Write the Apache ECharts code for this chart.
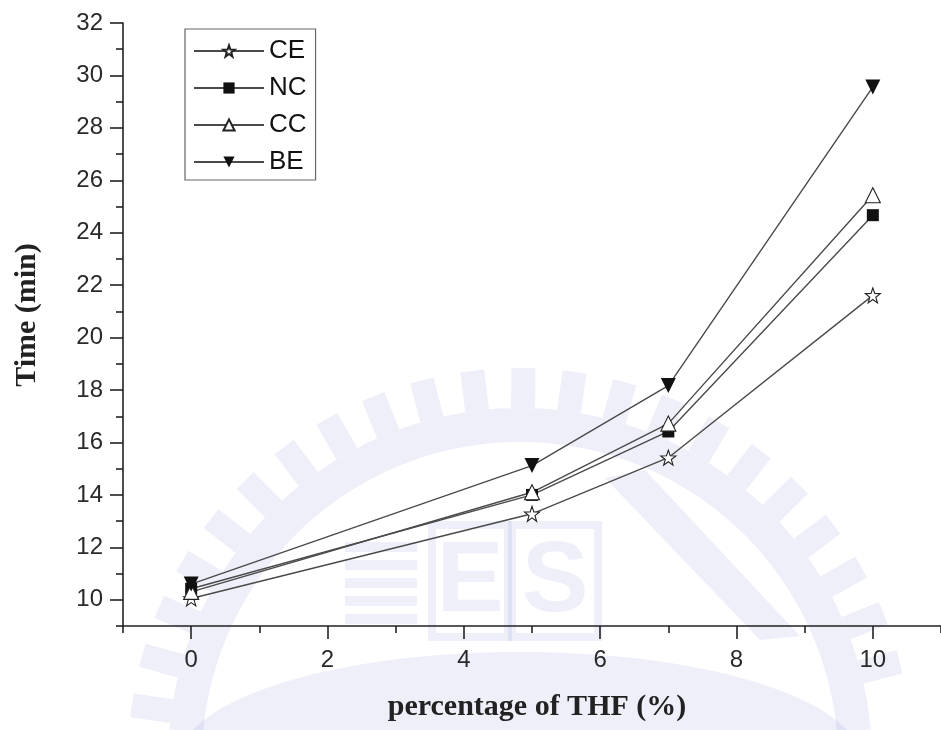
<!DOCTYPE html>
<html>
<head>
<meta charset="utf-8">
<script src="https://cdn.jsdelivr.net/npm/echarts@6/dist/echarts.min.js"></script>
<style>
  html, body { margin: 0; padding: 0; background: #fff; }
  #chart { width: 941px; height: 730px; }
</style>
</head>
<body>
<div id="chart"></div>
<script>
// THF percentage on the x axis
const thf = [0, 5, 7, 10];

// elution time (min) per sample
const seriesNames = ['CE', 'NC', 'CC', 'BE'];
const ceTime = [10.05, 13.28, 15.42, 21.61];
const ncTime = [10.42, 14.0, 16.42, 24.67];
const ccTime = [10.3, 14.1, 16.72, 25.43];
const beTime = [10.6, 15.12, 18.17, 29.56];

// tick labels (major) and unlabeled minor ticks
const xTickLabels = [0, 2, 4, 6, 8, 10];
const xMinorTicks = [-1, 1, 3, 5, 7, 9, 11];
const yTickLabels = [10, 12, 14, 16, 18, 20, 22, 24, 26, 28, 30, 32];
const yMinorTicks = [9, 11, 13, 15, 17, 19, 21, 23, 25, 27, 29, 31];

const STAR = 'path://M10,0 L12.35,6.76 L19.51,6.91 L13.8,11.24 L15.88,18.09 L10,14 L4.12,18.09 L6.2,11.24 L0.49,6.91 L7.65,6.76 Z';
const DOWN_TRI = 'path://M0,0 L10,0 L5,9 Z';

const zip = (xs, ys) => xs.map((x, i) => [x, ys[i]]);

function makeSeries(name, values, symbol, size, filled) {
  return {
    name: name,
    type: 'line',
    data: zip(thf, values),
    symbol: symbol,
    symbolSize: size,
    showAllSymbol: true,
    lineStyle: { color: '#4a4a4a', width: 1.4 },
    itemStyle: {
      color: filled ? '#111' : '#fff',
      borderColor: '#222',
      borderWidth: filled ? 0 : 1.1
    },
    emphasis: { disabled: true },
    z: 3
  };
}

// faint seal-like emblem printed across the page
const WM = 'rgba(150,158,220,0.16)';
function emblem() {
  const cx = 520, cy = 760;
  const els = [];
  els.push({
    type: 'sector', silent: true,
    shape: { cx: cx, cy: cy, r0: 318, r: 352, startAngle: Math.PI * 185 / 180, endAngle: Math.PI * 355 / 180 },
    style: { fill: WM }
  });
  for (let a = 188; a <= 352; a += 7.5) {
    const t = a * Math.PI / 180;
    const ux = Math.cos(t), uy = Math.sin(t);
    const vx = -uy, vy = ux;
    const r1 = 352, r2 = 392, hw = 12;
    els.push({
      type: 'polygon', silent: true,
      shape: { points: [
        [cx + ux * r1 - vx * hw, cy + uy * r1 - vy * hw],
        [cx + ux * r2 - vx * hw, cy + uy * r2 - vy * hw],
        [cx + ux * r2 + vx * hw, cy + uy * r2 + vy * hw],
        [cx + ux * r1 + vx * hw, cy + uy * r1 + vy * hw]
      ] },
      style: { fill: WM }
    });
  }
  for (let i = 0; i < 5; i++) {
    els.push({ type: 'rect', silent: true, shape: { x: 345, y: 542 + i * 18, width: 72, height: 10 }, style: { fill: WM } });
  }
  els.push({ type: 'rect', silent: true, shape: { x: 432, y: 525, width: 76, height: 112 }, style: { fill: 'none', stroke: WM, lineWidth: 8 } });
  els.push({ type: 'rect', silent: true, shape: { x: 512, y: 525, width: 86, height: 112 }, style: { fill: 'none', stroke: WM, lineWidth: 8 } });
  els.push({ type: 'text', silent: true, x: 470, y: 583, style: { text: 'E', font: 'bold 100px "Liberation Sans", sans-serif', fill: WM, align: 'center', verticalAlign: 'middle' } });
  els.push({ type: 'text', silent: true, x: 555, y: 583, style: { text: 'S', font: 'bold 100px "Liberation Sans", sans-serif', fill: WM, align: 'center', verticalAlign: 'middle' } });
  els.push({ type: 'polygon', silent: true, shape: { points: [[605, 478], [645, 470], [800, 636], [760, 640]] }, style: { fill: WM } });
  els.push({ type: 'ellipse', silent: true, shape: { cx: cx, cy: cy, rx: 340, ry: 108 }, style: { fill: WM } });
  return els;
}

const tickFont = { fontFamily: 'Liberation Sans, Arial, sans-serif', fontSize: 24, color: '#2a2a2a' };
const axisLineStyle = { color: '#222', width: 1.6 };
const tickLine = { color: '#222', width: 1.6 };

const chart = echarts.init(document.getElementById('chart'), null, { renderer: 'canvas' });
chart.setOption({
  animation: false,
  backgroundColor: '#fff',
  grid: { left: 123, top: 23, right: -8, bottom: 104, containLabel: false },
  xAxis: [{
    type: 'value', min: -1, max: 11,
    axisLine: { onZero: false, lineStyle: axisLineStyle },
    axisTick: { customValues: xTickLabels, length: 13, lineStyle: tickLine },
    axisLabel: { customValues: xTickLabels, margin: 22, ...tickFont },
    splitLine: { show: false }
  }, {
    type: 'value', min: -1, max: 11, position: 'bottom', offset: 0,
    axisLine: { show: false, onZero: false },
    axisTick: { customValues: xMinorTicks, length: 7, lineStyle: tickLine },
    axisLabel: { show: false },
    splitLine: { show: false }
  }],
  yAxis: [{
    type: 'value', min: 9, max: 32,
    axisLine: { show: true, onZero: false, lineStyle: axisLineStyle },
    axisTick: { show: true, customValues: yTickLabels, length: 13, lineStyle: tickLine },
    axisLabel: { customValues: yTickLabels, margin: 20, ...tickFont },
    splitLine: { show: false }
  }, {
    type: 'value', min: 9, max: 32, position: 'left', offset: 0,
    axisLine: { show: false, onZero: false },
    axisTick: { show: true, customValues: yMinorTicks, length: 7, lineStyle: tickLine },
    axisLabel: { show: false },
    splitLine: { show: false }
  }],
  legend: {
    orient: 'vertical',
    left: 185, top: 29,
    padding: [9, 9, 5, 8],
    itemGap: 11,
    itemWidth: 70,
    itemHeight: 14,
    borderColor: '#666',
    borderWidth: 1.2,
    selectedMode: false,
    textStyle: { fontFamily: 'Liberation Sans, Arial, sans-serif', fontSize: 26, color: '#111', lineHeight: 26 },
    data: seriesNames
  },
  graphic: [{
    type: 'group', silent: true, z: 50,
    children: emblem()
  }, {
    type: 'text',
    x: 27, y: 315,
    rotation: Math.PI / 2,
    style: {
      text: 'Time (min)',
      font: 'bold 30px "Liberation Serif", "Times New Roman", serif',
      fill: '#222',
      align: 'center',
      verticalAlign: 'middle'
    }
  }, {
    type: 'text',
    x: 537, y: 707,
    style: {
      text: 'percentage of THF (%)',
      font: 'bold 30px "Liberation Serif", "Times New Roman", serif',
      fill: '#222',
      align: 'center',
      verticalAlign: 'middle'
    }
  }],
  series: [
    makeSeries('CE', ceTime, STAR, 15, false),
    makeSeries('NC', ncTime, 'rect', 12, true),
    makeSeries('CC', ccTime, 'triangle', 15, false),
    makeSeries('BE', beTime, DOWN_TRI, 15, true)
  ]
});
</script>
</body>
</html>
